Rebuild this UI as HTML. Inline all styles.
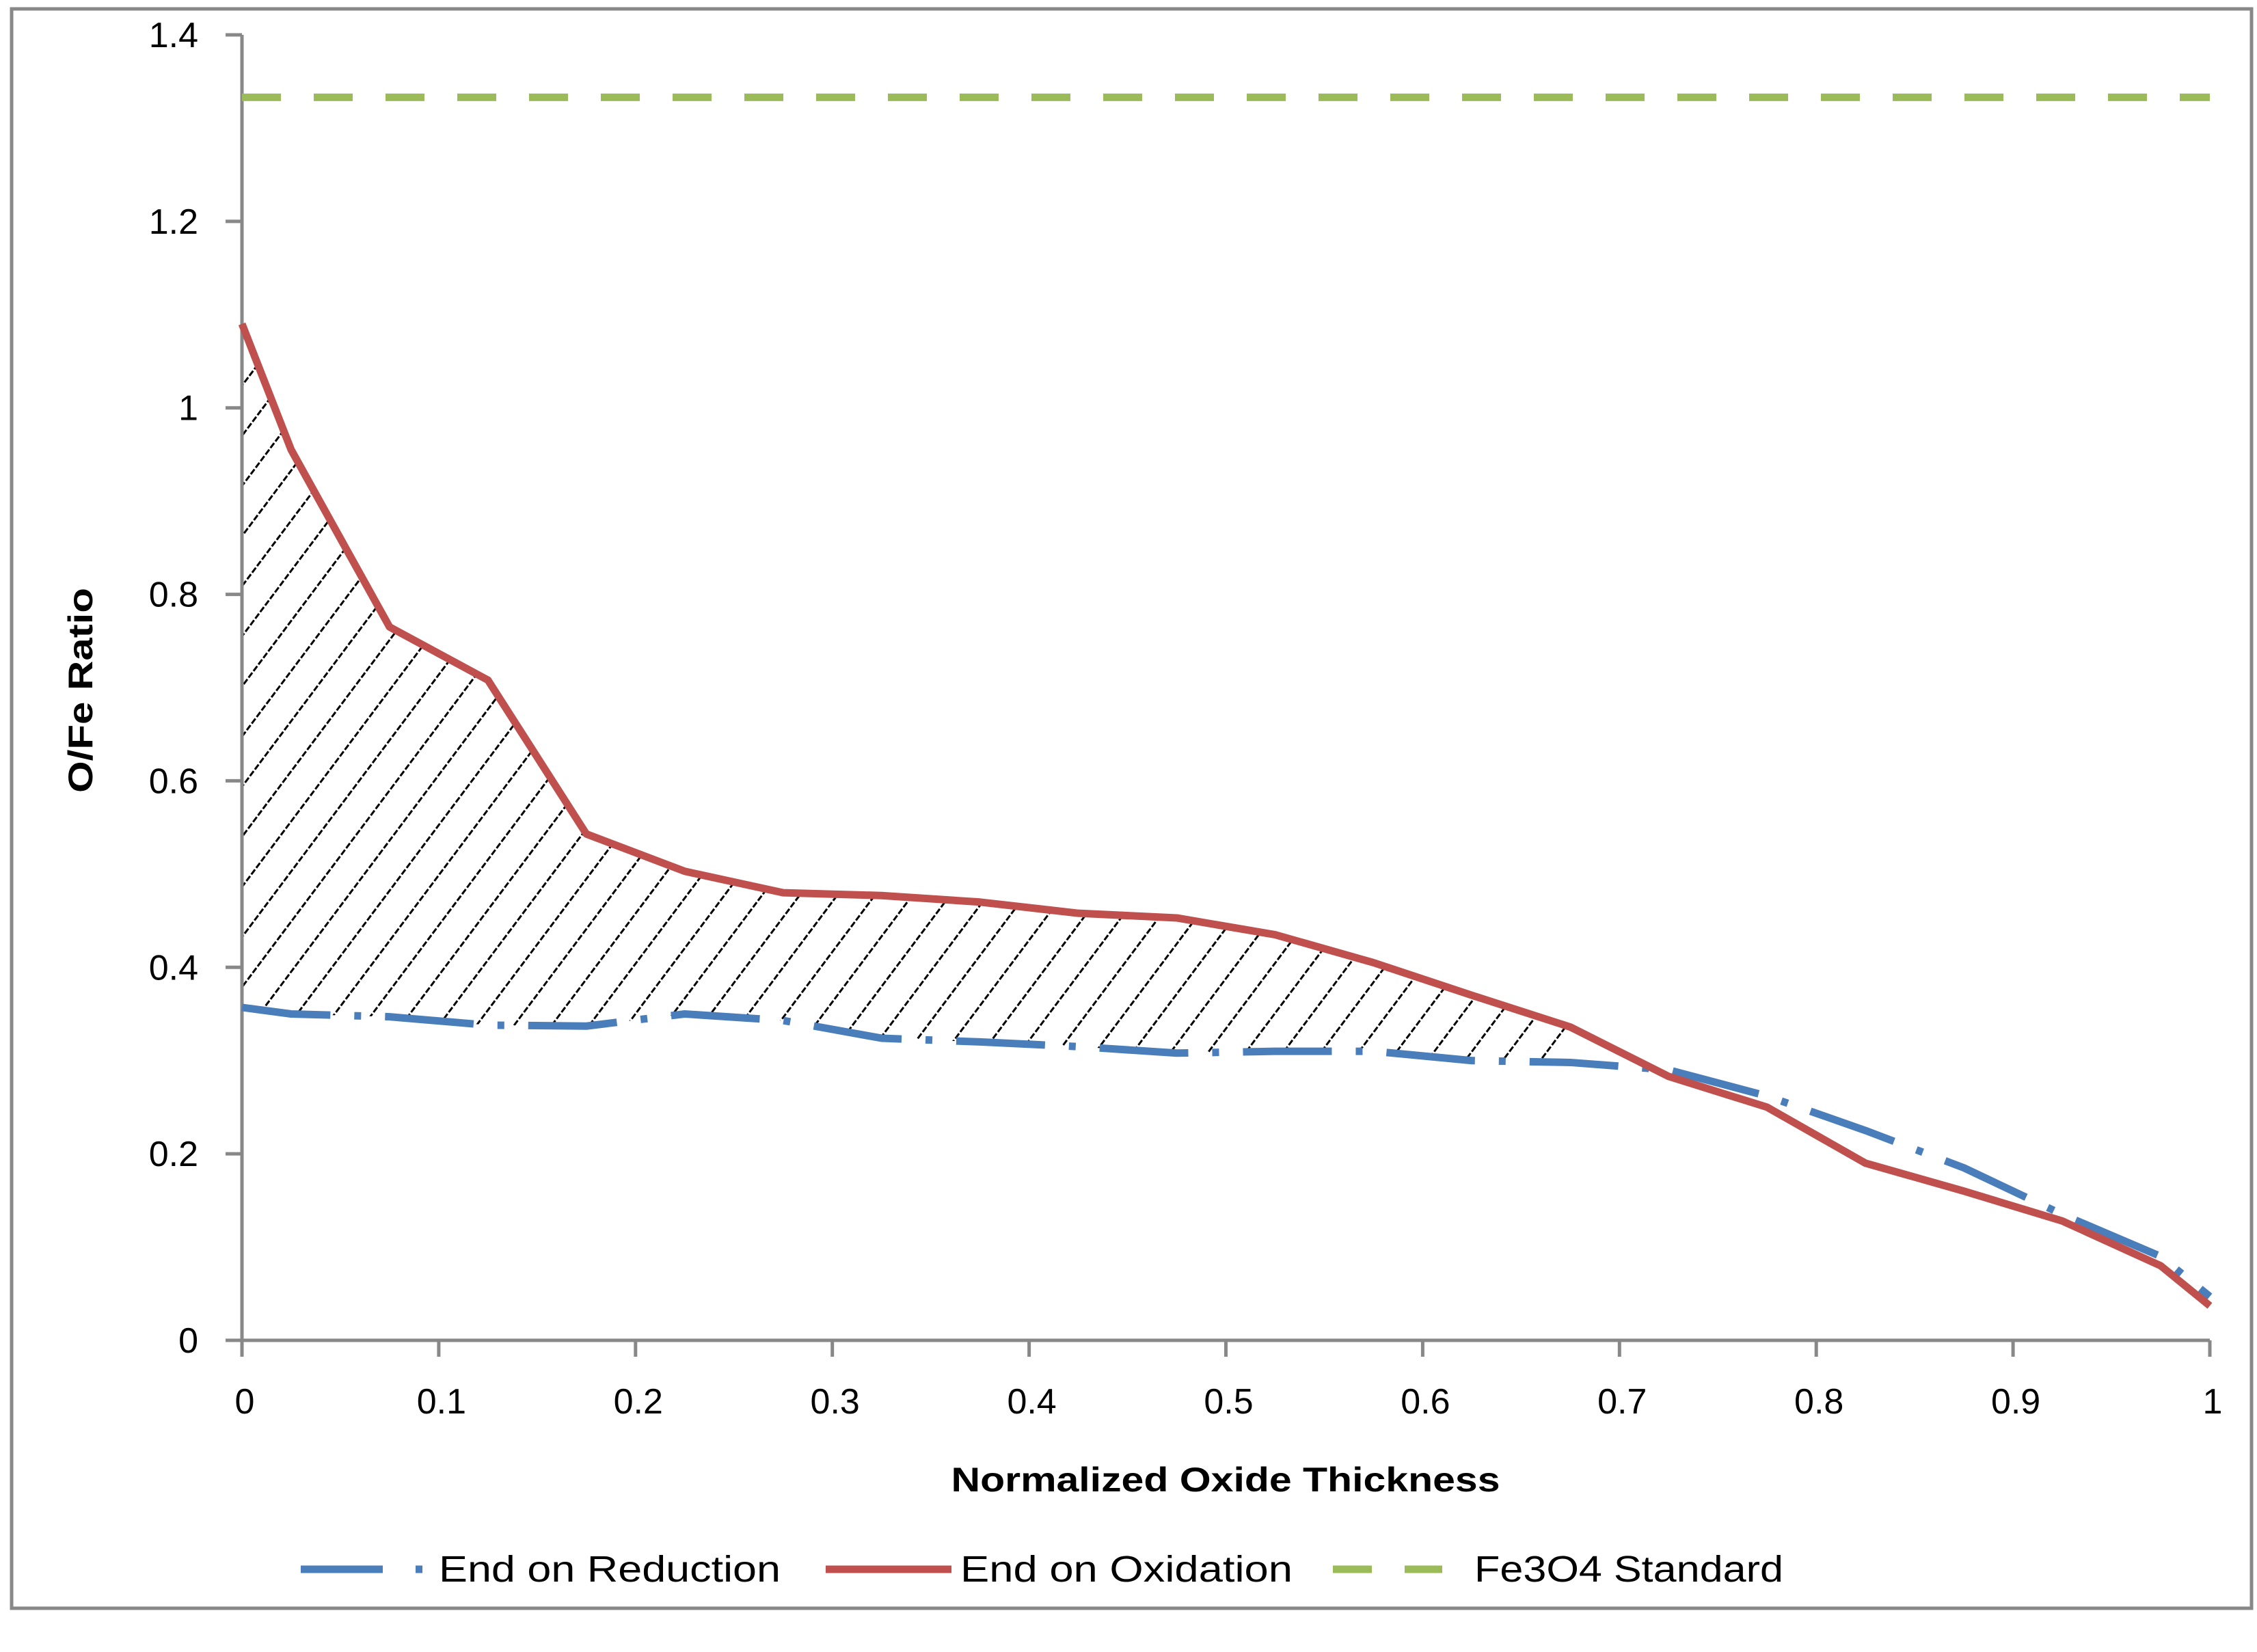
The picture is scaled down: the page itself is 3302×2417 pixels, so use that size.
<!DOCTYPE html>
<html><head><meta charset="utf-8"><style>
html,body{margin:0;padding:0;background:#fff;}
svg{display:block;font-family:"Liberation Sans",sans-serif;}
</style></head><body>
<svg id="chart" width="3302" height="2417" viewBox="0 0 3302 2417">
<rect x="17" y="13" width="3277" height="2340" fill="#fff" stroke="#888" stroke-width="5"/>
<defs>
<clipPath id="hclip"><path id="hpath" d=""/></clipPath>
</defs>
<g id="plot"></g>
<text x="135" y="1010" font-size="50" font-weight="bold" text-anchor="middle" textLength="300" lengthAdjust="spacingAndGlyphs" transform="rotate(-90 135 1010)">O/Fe Ratio</text>
<text x="1793" y="2182" font-size="50" font-weight="bold" text-anchor="middle" textLength="803" lengthAdjust="spacingAndGlyphs">Normalized Oxide Thickness</text>
<g>
<g>
<line x1="440" y1="2296" x2="560" y2="2296" stroke="#4a7ebb" stroke-width="11"/>
<line x1="608" y1="2296" x2="618" y2="2296" stroke="#4a7ebb" stroke-width="11"/>
<text x="642" y="2314" font-size="54" textLength="500" lengthAdjust="spacingAndGlyphs">End on Reduction</text>
</g>
<g>
<line x1="1208" y1="2296" x2="1392" y2="2296" stroke="#c0504d" stroke-width="11"/>
<text x="1405" y="2314" font-size="54" textLength="486" lengthAdjust="spacingAndGlyphs">End on Oxidation</text>
</g>
<g>
<line x1="1950" y1="2296" x2="2110" y2="2296" stroke="#9bbb59" stroke-width="11" stroke-dasharray="57 48"/>
<text x="2157" y="2314" font-size="54" textLength="452" lengthAdjust="spacingAndGlyphs">Fe3O4 Standard</text>
</g>
</g>
</svg>
<script>
const xs = [0,0.025,0.075,0.125,0.175,0.225,0.275,0.325,0.375,0.425,0.475,0.525,0.575,0.625,0.675,0.725,0.775,0.825,0.875,0.925,0.975,1];
const oxidation = [1.09,0.955,0.765,0.708,0.543,0.503,0.48,0.477,0.47,0.458,0.453,0.435,0.405,0.37,0.336,0.283,0.25,0.19,0.16,0.128,0.08,0.037];
const reduction = [0.357,0.35,0.347,0.338,0.337,0.35,0.343,0.324,0.32,0.315,0.308,0.31,0.31,0.3,0.298,0.29,0.262,0.225,0.185,0.135,0.09,0.047];
const standard = [1.333];
const xTicks = [0,0.1,0.2,0.3,0.4,0.5,0.6,0.7,0.8,0.9,1];
const xTickLabels = ["0","0.1","0.2","0.3","0.4","0.5","0.6","0.7","0.8","0.9","1"];
const yTicks = [0,0.2,0.4,0.6,0.8,1,1.2,1.4];
const yTickLabels = ["0","0.2","0.4","0.6","0.8","1","1.2","1.4"];

const X0=354, X1=3233, Y0=1961, Y1=51;
const sx = v => X0 + (X1-X0)*v;
const sy = v => Y0 - (Y0-Y1)*v/1.4;
const NS="http://www.w3.org/2000/svg";
const plotG=document.getElementById('plot');
function mk(t,a,parent){const e=document.createElementNS(NS,t);for(const k in a)e.setAttribute(k,a[k]);(parent||plotG).appendChild(e);return e;}

const upperPts=[], lowerPts=[];
for(let i=0;i<xs.length;i++){
  if(xs[i]>0.7)break;
  upperPts.push(sx(xs[i])+','+sy(oxidation[i]));
  lowerPts.push(sx(xs[i])+','+sy(reduction[i]));
}
document.getElementById('hpath').setAttribute('d','M'+upperPts.join(' L')+' L'+lowerPts.reverse().join(' L')+' Z');
const hg=mk('g',{'clip-path':'url(#hclip)'});


const H=Y0-Y1, slope=0.75;
for(let x=X0-H*slope; x<X1; x+=55){
  mk('line',{x1:x,y1:Y0,x2:x+H*slope,y2:Y1,stroke:'#000','stroke-width':3,'stroke-dasharray':'9 3'},hg);
}

const ya=mk('line',{x1:X0,y1:Y1,x2:X0,y2:Y0,stroke:'#888','stroke-width':5});


const xa=mk('line',{x1:X0-12,y1:Y0,x2:X1,y2:Y0,stroke:'#888','stroke-width':5});


yTicks.forEach((v,i)=>{
  mk('line',{x1:X0-24,y1:sy(v),x2:X0,y2:sy(v),stroke:'#888','stroke-width':5});
  const t=mk('text',{x:X0-64,y:sy(v)+18,'font-size':52,'text-anchor':'end'});
  t.textContent=yTickLabels[i];
  
  
});
xTicks.forEach((v,i)=>{
  mk('line',{x1:sx(v),y1:Y0,x2:sx(v),y2:Y0+24,stroke:'#888','stroke-width':5});
  const t=mk('text',{x:sx(v)+4,y:Y0+107,'font-size':52,'text-anchor':'middle'});
  t.textContent=xTickLabels[i];
  
  
});

const gl=mk('line',{x1:X0,y1:sy(standard[0]),x2:X1,y2:sy(standard[0]),stroke:'#9bbb59','stroke-width':11,'stroke-dasharray':'57 48'});


const bp=mk('polyline',{points:xs.map((x,i)=>sx(x)+','+sy(reduction[i])).join(' '),fill:'none',stroke:'#4a7ebb','stroke-width':11,'stroke-dasharray':'130 35 10 35','stroke-linejoin':'round'});


const rp=mk('polyline',{points:xs.map((x,i)=>sx(x)+','+sy(oxidation[i])).join(' '),fill:'none',stroke:'#c0504d','stroke-width':11,'stroke-linejoin':'round'});


</script>
</body></html>
